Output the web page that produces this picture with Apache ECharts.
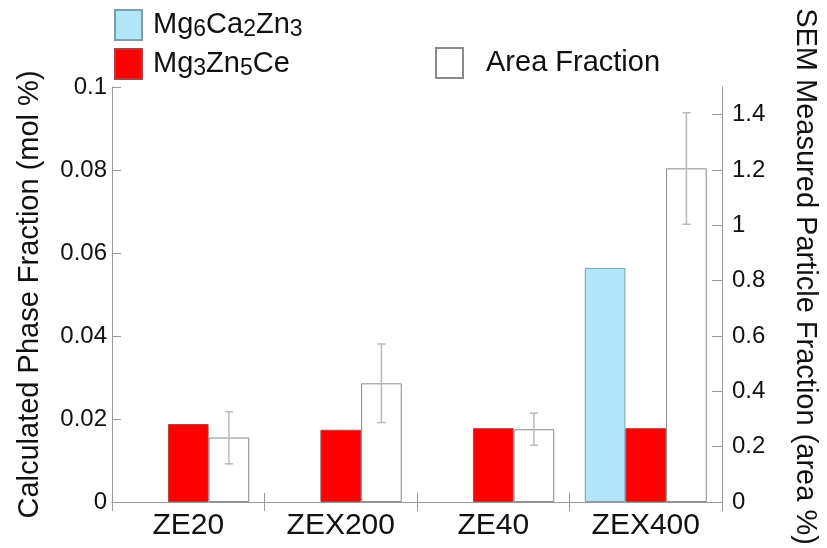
<!DOCTYPE html>
<html>
<head>
<meta charset="utf-8">
<script src="https://cdn.jsdelivr.net/npm/echarts@6/dist/echarts.min.js"></script>
<style>
  html, body { margin: 0; padding: 0; background: #fff; }
  #chart { width: 827px; height: 548px; }
</style>
</head>
<body>
<div id="chart"></div>
<script>
// Alloys on the category axis
const categories = ['ZE20', 'ZEX200', 'ZE40', 'ZEX400'];
// Calculated phase fractions (mol %), left axis
const mg6ca2zn3 = ['-', '-', '-', 0.0564];
const mg3zn5ce = [0.0188, 0.0174, 0.0178, 0.0178];
// SEM measured particle fraction (area %), right axis
const areaFraction = [0.233, 0.429, 0.263, 1.206];
const areaLow = [0.138, 0.287, 0.205, 1.004];
const areaHigh = [0.326, 0.571, 0.321, 1.407];

const FONT = 'Liberation Sans, Arial, Helvetica, sans-serif';
const AXIS_GREY = '#9a9a9a';

const chart = echarts.init(document.getElementById('chart'), null, { renderer: 'canvas' });

const legendText = {
  fontFamily: FONT,
  fontSize: 29,
  color: '#111',
  rich: {
    m: { fontFamily: FONT, fontSize: 29, lineHeight: 32, color: '#111' },
    s: { fontFamily: FONT, fontSize: 23, lineHeight: 14, verticalAlign: 'bottom', color: '#111' }
  }
};

function legend(name, left, top, pad) {
  return {
    data: [name],
    left: left,
    top: top,
    orient: 'horizontal',
    icon: 'rect',
    itemWidth: 27,
    itemHeight: 30,
    selectedMode: false,
    formatter: function (n) {
      if (n === 'Mg6Ca2Zn3') return '{m|Mg}{s|6}{m|Ca}{s|2}{m|Zn}{s|3}';
      if (n === 'Mg3Zn5Ce') return '{m|Mg}{s|3}{m|Zn}{s|5}{m|Ce}';
      return '{m|' + n + '}';
    },
    textStyle: Object.assign({ padding: [0, 0, 0, pad] }, legendText)
  };
}

const option = {
  backgroundColor: '#fff',
  animation: false,
  legend: [
    legend('Mg6Ca2Zn3', 109, 4, 6),
    legend('Mg3Zn5Ce', 109, 43, 6),
    legend('Area Fraction', 430, 42, 18)
  ],
  grid: { left: 112, right: 100, top: 87, bottom: 46, containLabel: false },
  xAxis: [
    {
      type: 'category',
      data: categories,
      position: 'bottom',
      axisLine: { lineStyle: { color: AXIS_GREY, width: 1 } },
      axisTick: { show: true, inside: true, length: 9, lineStyle: { color: AXIS_GREY } },
      axisLabel: { fontFamily: FONT, fontSize: 30, color: '#111', margin: 9 }
    },
    {
      type: 'category',
      data: categories,
      position: 'top',
      axisLine: { lineStyle: { color: AXIS_GREY, width: 1 } },
      axisTick: { show: true, inside: true, length: 9, lineStyle: { color: AXIS_GREY } },
      axisLabel: { show: false }
    }
  ],
  yAxis: [
    {
      type: 'value',
      min: 0,
      max: 0.1,
      interval: 0.02,
      position: 'left',
      name: 'Calculated Phase Fraction (mol %)',
      nameLocation: 'middle',
      nameGap: 68,
      nameTextStyle: { fontFamily: FONT, fontSize: 29, color: '#111' },
      axisLine: { show: true, lineStyle: { color: AXIS_GREY, width: 1 } },
      axisTick: { show: true, inside: true, length: 9, lineStyle: { color: AXIS_GREY } },
      axisLabel: { fontFamily: FONT, fontSize: 24, color: '#111', margin: 5 },
      splitLine: { show: false }
    },
    {
      type: 'value',
      min: 0,
      max: 1.5,
      interval: 0.2,
      position: 'right',
      name: 'SEM Measured Particle Fraction (area %)',
      nameLocation: 'middle',
      nameRotate: -90,
      nameGap: 68,
      nameTextStyle: { fontFamily: FONT, fontSize: 29, color: '#111', padding: [0, 36, 0, 0] },
      axisLine: { show: true, lineStyle: { color: AXIS_GREY, width: 1 } },
      axisTick: { show: true, inside: true, length: 10, lineStyle: { color: AXIS_GREY } },
      axisLabel: {
        fontFamily: FONT, fontSize: 24, color: '#111', margin: 10,
        showMaxLabel: false,
        formatter: function (v) { return v > 1.45 ? '' : String(+v.toFixed(1)); }
      },
      splitLine: { show: false }
    }
  ],
  series: [
    {
      name: 'Mg6Ca2Zn3',
      type: 'bar',
      yAxisIndex: 0,
      data: mg6ca2zn3,
      barGap: '0%',
      barCategoryGap: '20%',
      itemStyle: { color: '#b1e5fa', borderColor: '#7f9eab', borderWidth: 1 }
    },
    {
      name: 'Mg3Zn5Ce',
      type: 'bar',
      yAxisIndex: 0,
      data: mg3zn5ce,
      barGap: '0%',
      barCategoryGap: '20%',
      itemStyle: { color: '#ff0000', borderColor: '#b04040', borderWidth: 1 }
    },
    {
      name: 'Area Fraction',
      type: 'bar',
      yAxisIndex: 1,
      data: areaFraction,
      barGap: '0%',
      barCategoryGap: '20%',
      itemStyle: { color: '#ffffff', borderColor: '#8a8a8a', borderWidth: 1 }
    },
    {
      name: 'Area Fraction error',
      type: 'custom',
      yAxisIndex: 1,
      z: 5,
      data: categories.map(function (c, i) { return [i, areaLow[i], areaHigh[i]]; }),
      encode: { x: 0, y: [1, 2] },
      renderItem: function (params, api) {
        const i = api.value(0);
        const lo = api.coord([i, api.value(1)]);
        const hi = api.coord([i, api.value(2)]);
        const band = api.size([1, 0])[0];
        // third bar of the group: centre sits one bar width right of the category centre
        const x = lo[0] + band * 0.8 / 3;
        const cap = 4;
        const st = { stroke: '#b8b8b8', lineWidth: 1.5 };
        return {
          type: 'group',
          children: [
            { type: 'line', shape: { x1: x, y1: lo[1], x2: x, y2: hi[1] }, style: st },
            { type: 'line', shape: { x1: x - cap, y1: hi[1], x2: x + cap, y2: hi[1] }, style: st },
            { type: 'line', shape: { x1: x - cap, y1: lo[1], x2: x + cap, y2: lo[1] }, style: st }
          ]
        };
      },
      tooltip: { show: false }
    }
  ]
};

chart.setOption(option);
</script>
</body>
</html>
